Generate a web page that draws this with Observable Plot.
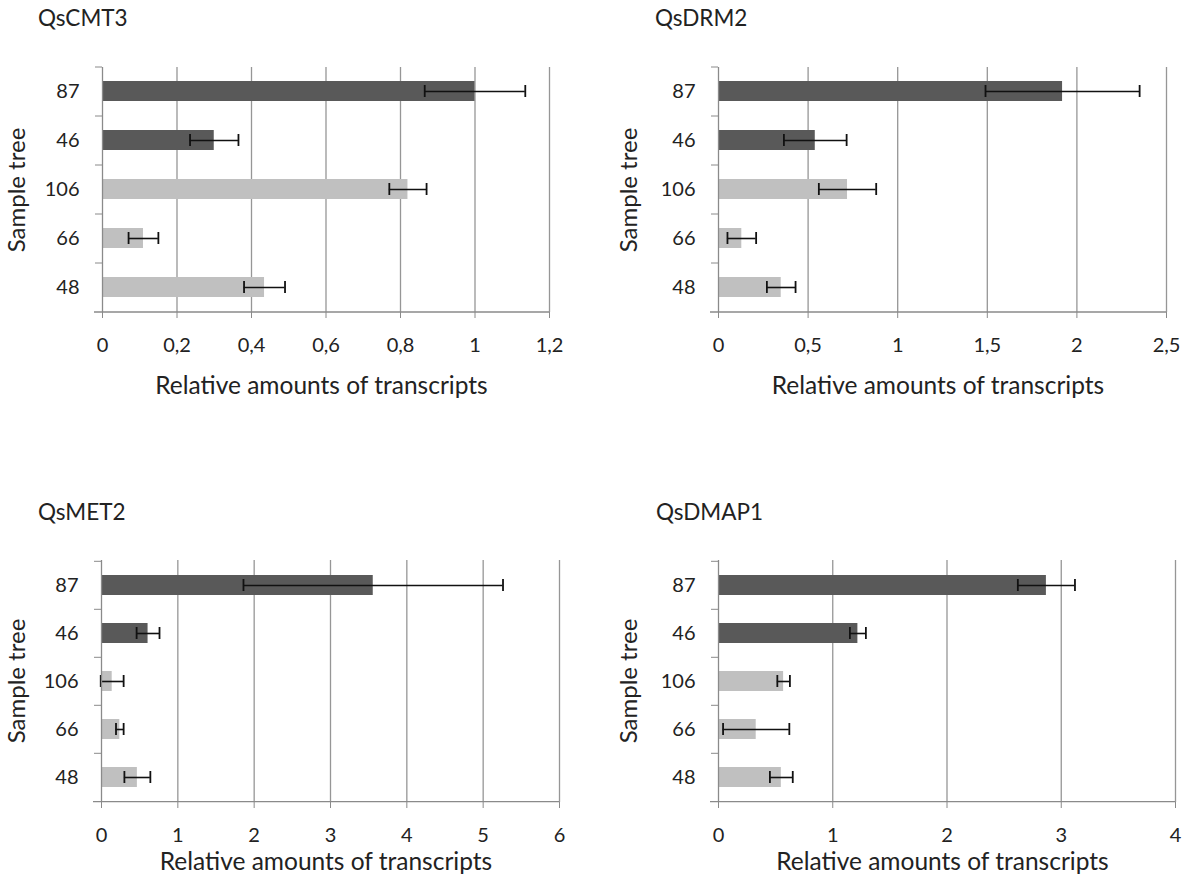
<!DOCTYPE html>
<html><head><meta charset="utf-8">
<script src="https://cdn.jsdelivr.net/npm/d3@7"></script>
<script src="https://cdn.jsdelivr.net/npm/@observablehq/plot@0.6"></script>
<style>
body{margin:0;background:#fff;font-family:Lato,"Open Sans",sans-serif;color:#222}
#root{position:relative;width:1200px;height:882px;overflow:hidden;background:#fff}
#root svg{position:absolute}
.t{position:absolute;white-space:nowrap;line-height:1}
</style></head><body><div id="root"></div>
<script>
// ---- data ----
const categories = ["87", "46", "106", "66", "48"];
const groups = ["high", "high", "low", "low", "low"];

const cmt3Values = [1.00, 0.30, 0.82, 0.11, 0.435];
const cmt3Errors = [0.135, 0.065, 0.05, 0.04, 0.055];
const cmt3Ticks = [0, 0.2, 0.4, 0.6, 0.8, 1, 1.2];

const drm2Values = [1.92, 0.54, 0.72, 0.13, 0.35];
const drm2Errors = [0.43, 0.175, 0.16, 0.08, 0.08];
const drm2Ticks = [0, 0.5, 1, 1.5, 2, 2.5];

const met2Values = [3.56, 0.61, 0.14, 0.24, 0.47];
const met2Errors = [1.7, 0.15, 0.15, 0.05, 0.17];
const met2Ticks = [0, 1, 2, 3, 4, 5, 6];

const dmap1Values = [2.87, 1.22, 0.57, 0.33, 0.55];
const dmap1Errors = [0.25, 0.07, 0.055, 0.29, 0.1];
const dmap1Ticks = [0, 1, 2, 3, 4];

const titles = ["QsCMT3", "QsDRM2", "QsMET2", "QsDMAP1"];
const xTitle = "Relative amounts of transcripts";
const yTitle = "Sample tree";

// ---- layout ----
const layouts = [
  {left: 0,   top: 50,  height: 312, mt: 17, mb: 50, ml: 102, mr: 51, titleX: 38,  titleY: 7,   xtY: 373, ytX: 16},
  {left: 600, top: 50,  height: 312, mt: 17, mb: 50, ml: 118, mr: 34, titleX: 655, titleY: 7,   xtY: 373, ytX: 628},
  {left: 0,   top: 540, height: 322, mt: 20, mb: 60, ml: 101, mr: 41, titleX: 38,  titleY: 501, xtY: 849, ytX: 16},
  {left: 600, top: 540, height: 322, mt: 20, mb: 60, ml: 118, mr: 25, titleX: 656, titleY: 501, xtY: 849, ytX: 628}
];
const series = [
  [cmt3Values, cmt3Errors, cmt3Ticks],
  [drm2Values, drm2Errors, drm2Ticks],
  [met2Values, met2Errors, met2Ticks],
  [dmap1Values, dmap1Errors, dmap1Ticks]
];

const root = document.getElementById("root");
const fmt = d => String(d).replace(".", ",");
const axisGray = "#8a8a8a";

series.forEach(([values, errors, ticks], i) => {
  const L = layouts[i];
  const data = categories.map((c, k) => ({cat: c, group: groups[k], value: values[k], err: errors[k]}));
  const xmax = ticks[ticks.length - 1];
  const half = (L.height - L.mt - L.mb) / categories.length / 2;
  const svg = Plot.plot({
    width: 600, height: L.height,
    marginLeft: L.ml, marginRight: L.mr, marginTop: L.mt, marginBottom: L.mb,
    style: {background: "transparent", fontFamily: "Lato, 'Open Sans', sans-serif", fontSize: "20px", color: "#222", overflow: "visible"},
    x: {domain: [0, xmax]},
    y: {domain: categories, paddingInner: 0.59, paddingOuter: 0.295},
    color: {domain: ["high", "low"], range: ["#595959", "#c0c0c0"]},
    marks: [
      Plot.gridX(ticks.slice(1), {stroke: "#969696", strokeOpacity: 1, strokeWidth: 1.3}),
      Plot.barX(data, {y: "cat", x: "value", fill: "group"}),
      Plot.ruleY(data, {y: "cat", x1: d => d.value - d.err, x2: d => d.value + d.err, stroke: "#111", strokeWidth: 1.6}),
      Plot.tickX(data, {y: "cat", x: d => d.value - d.err, stroke: "#111", strokeWidth: 1.8, insetTop: 4, insetBottom: 4}),
      Plot.tickX(data, {y: "cat", x: d => d.value + d.err, stroke: "#111", strokeWidth: 1.8, insetTop: 4, insetBottom: 4}),
      Plot.ruleX([0], {stroke: axisGray, strokeWidth: 1.3}),
      Plot.ruleY([categories[categories.length - 1]], {y: d => d, dy: half, stroke: axisGray, strokeWidth: 1.3, insetLeft: -8}),
      Plot.axisY({tickSize: 0, tickPadding: 23, fontSize: 20, label: null, fill: "#222"}),
      Plot.axisY({tickSize: 7, dy: -half, tickFormat: () => "", label: null, stroke: axisGray}),
      Plot.axisX(ticks, {tickSize: 6, tickPadding: 19, tickFormat: fmt, fontSize: 20, label: null, stroke: axisGray, fill: "#222"})
    ]
  });
  svg.style.left = L.left + "px";
  svg.style.top = L.top + "px";
  root.appendChild(svg);

  const t = document.createElement("div");
  t.className = "t"; t.textContent = titles[i];
  t.style.cssText = `left:${L.titleX}px;top:${L.titleY}px;font-size:22.5px;`;
  root.appendChild(t);

  const fx = L.left + (L.ml + 600 - L.mr) / 2 - 4;
  const xt = document.createElement("div");
  xt.className = "t"; xt.textContent = xTitle;
  xt.style.cssText = `left:${fx}px;top:${L.xtY}px;font-size:24.5px;transform:translateX(-50%);`;
  root.appendChild(xt);

  const cy = L.top + L.mt + (L.height - L.mt - L.mb) / 2;
  const yt = document.createElement("div");
  yt.className = "t"; yt.textContent = yTitle;
  yt.style.cssText = `left:${L.ytX}px;top:${cy}px;font-size:24px;transform:translate(-50%,-50%) rotate(-90deg);`;
  root.appendChild(yt);
});
</script></body></html>
